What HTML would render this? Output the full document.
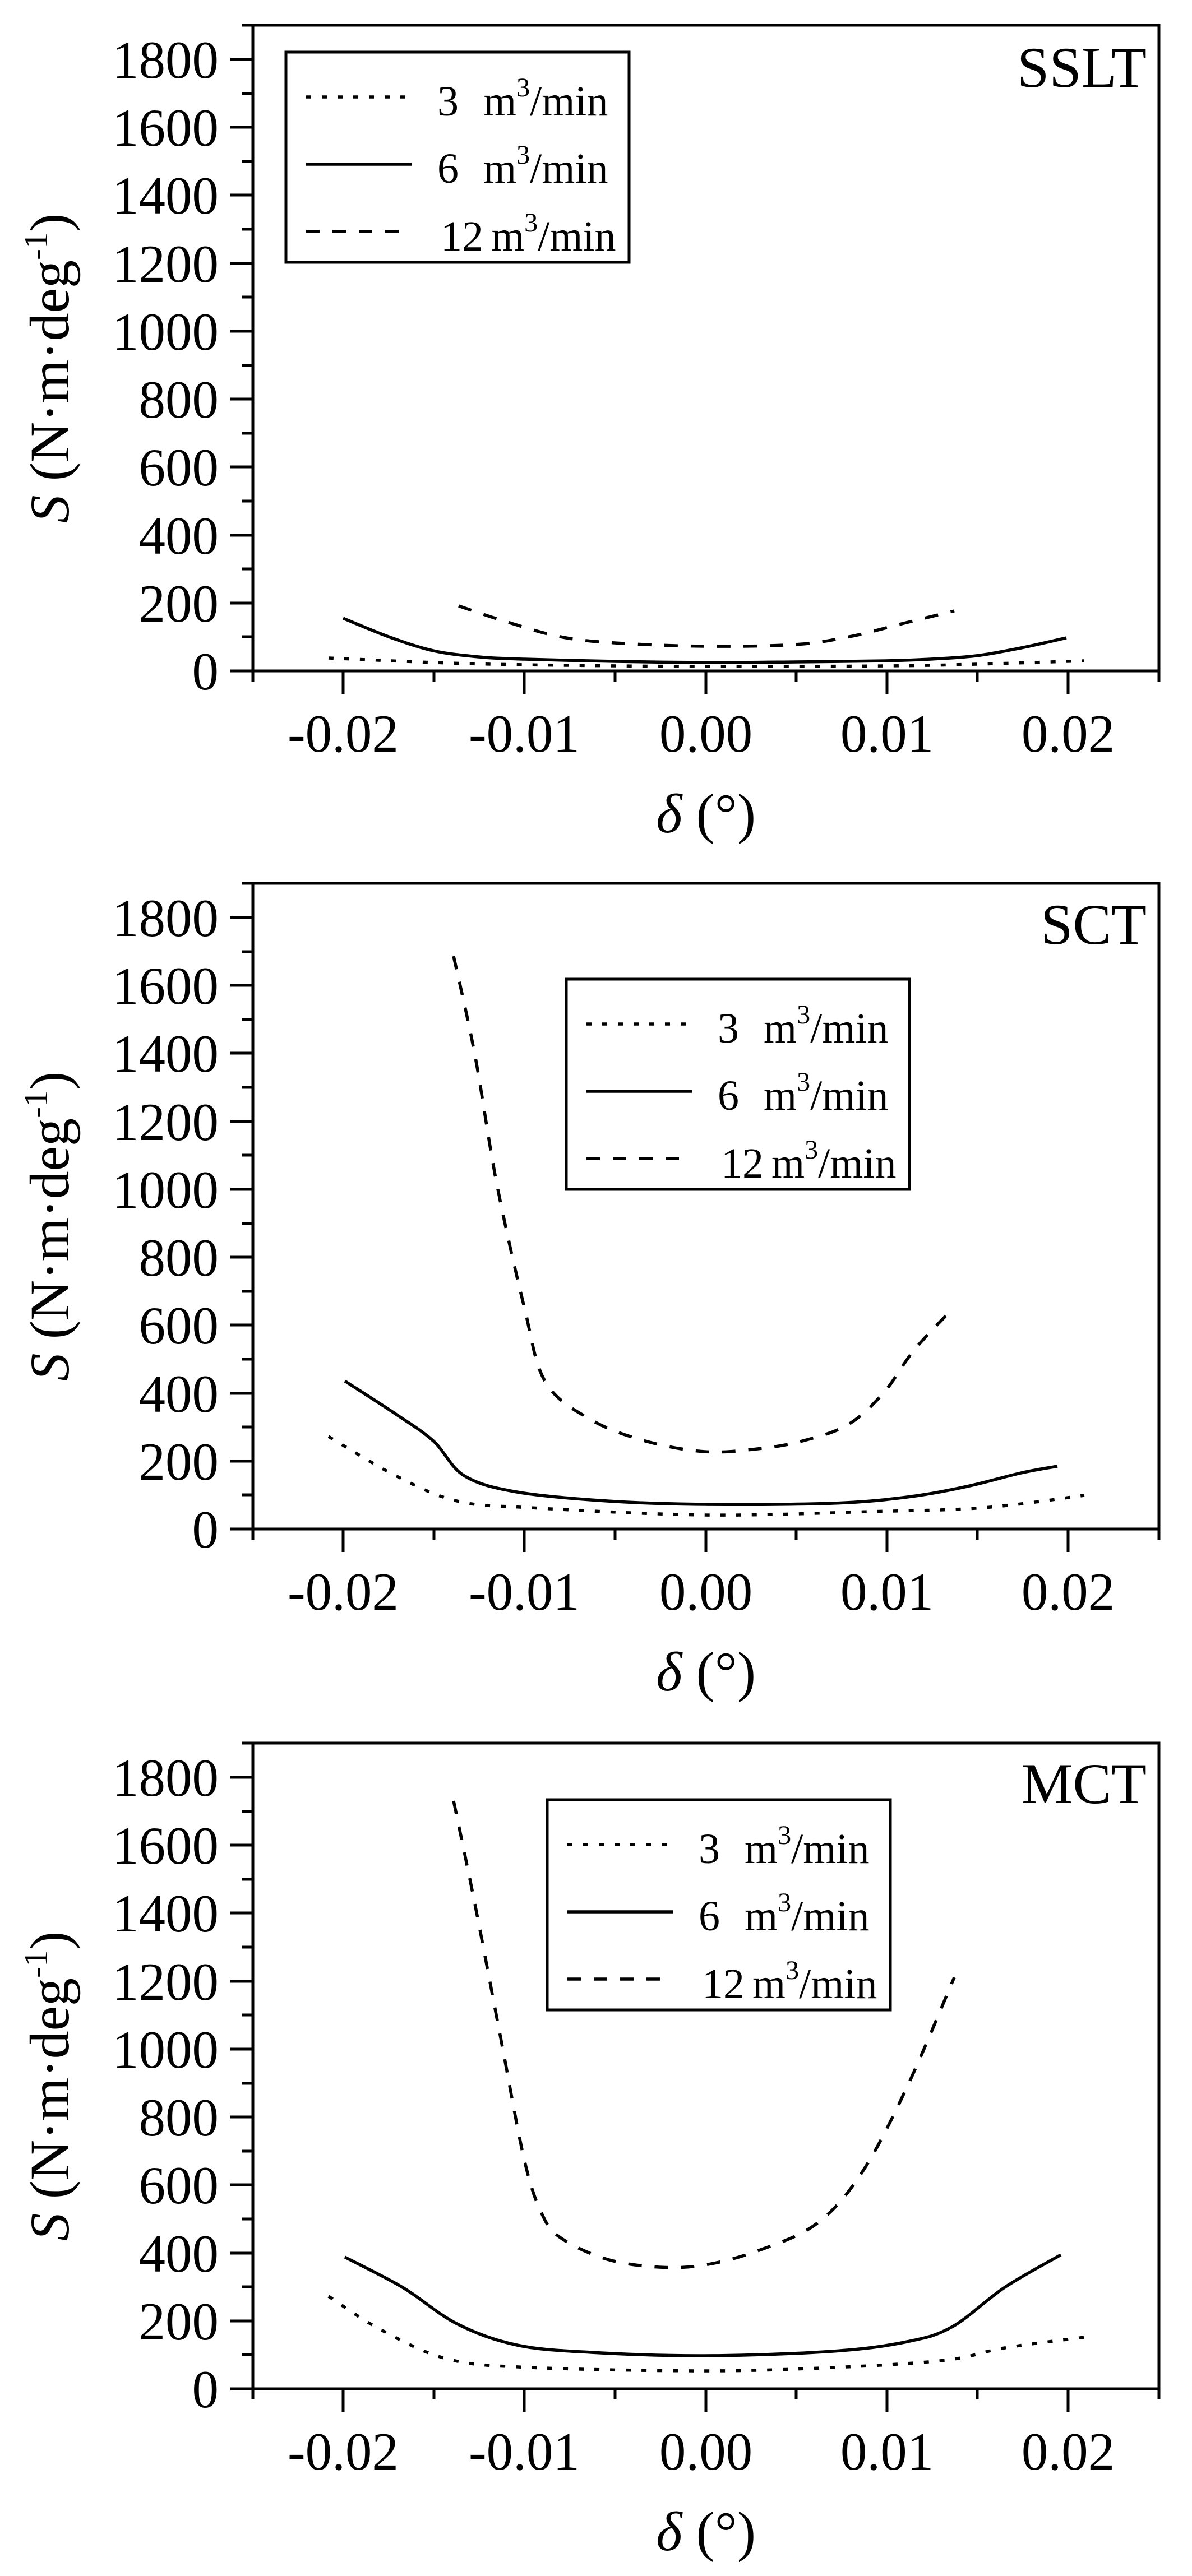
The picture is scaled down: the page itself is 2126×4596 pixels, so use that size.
<!DOCTYPE html>
<html><head><meta charset="utf-8"><style>
html,body{margin:0;padding:0;background:#fff;}
svg{display:block;}
text{font-family:"Liberation Serif","Times New Roman",serif;fill:#000;}
.ax{fill:none;stroke:#000;stroke-width:5;}
.tk{stroke:#000;stroke-width:5;}
.c{fill:none;stroke:#000;stroke-width:5.5;stroke-linejoin:round;}
.dot{stroke-dasharray:9 19;}
.dsh{stroke-dasharray:24 23;}
.yl{font-size:95px;text-anchor:end;}
.xl{font-size:95px;text-anchor:middle;}
.lg{font-size:76px;}
.tt{font-size:103px;text-anchor:end;}
</style></head><body>
<svg id="s" width="2126" height="4596" viewBox="0 0 2126 4596" xmlns="http://www.w3.org/2000/svg">
<defs>
<g id="frame">
<rect class="ax" x="451" y="0" width="1616" height="1152"/>
<g class="tk">
<line x1="411" y1="1152" x2="451" y2="1152"/><line x1="432" y1="1091" x2="451" y2="1091"/>
<line x1="411" y1="1031" x2="451" y2="1031"/><line x1="432" y1="970" x2="451" y2="970"/>
<line x1="411" y1="910" x2="451" y2="910"/><line x1="432" y1="849" x2="451" y2="849"/>
<line x1="411" y1="788" x2="451" y2="788"/><line x1="432" y1="728" x2="451" y2="728"/>
<line x1="411" y1="667" x2="451" y2="667"/><line x1="432" y1="607" x2="451" y2="607"/>
<line x1="411" y1="546" x2="451" y2="546"/><line x1="432" y1="485" x2="451" y2="485"/>
<line x1="411" y1="425" x2="451" y2="425"/><line x1="432" y1="364" x2="451" y2="364"/>
<line x1="411" y1="303" x2="451" y2="303"/><line x1="432" y1="243" x2="451" y2="243"/>
<line x1="411" y1="182" x2="451" y2="182"/><line x1="432" y1="122" x2="451" y2="122"/>
<line x1="411" y1="61" x2="451" y2="61"/><line x1="432" y1="0" x2="451" y2="0"/>
<line x1="451" y1="1152" x2="451" y2="1171"/><line x1="612" y1="1152" x2="612" y2="1193"/>
<line x1="774" y1="1152" x2="774" y2="1171"/><line x1="935" y1="1152" x2="935" y2="1193"/>
<line x1="1097" y1="1152" x2="1097" y2="1171"/><line x1="1259" y1="1152" x2="1259" y2="1193"/>
<line x1="1420" y1="1152" x2="1420" y2="1171"/><line x1="1582" y1="1152" x2="1582" y2="1193"/>
<line x1="1743" y1="1152" x2="1743" y2="1171"/><line x1="1905" y1="1152" x2="1905" y2="1193"/>
<line x1="2067" y1="1152" x2="2067" y2="1171"/>
</g>
<text class="yl" x="390" y="1185">0</text>
<text class="yl" x="390" y="1064">200</text>
<text class="yl" x="390" y="943">400</text>
<text class="yl" x="390" y="821">600</text>
<text class="yl" x="390" y="700">800</text>
<text class="yl" x="390" y="579">1000</text>
<text class="yl" x="390" y="458">1200</text>
<text class="yl" x="390" y="336">1400</text>
<text class="yl" x="390" y="215">1600</text>
<text class="yl" x="390" y="94">1800</text>
<text class="xl" x="612" y="1296">-0.02</text>
<text class="xl" x="935" y="1296">-0.01</text>
<text class="xl" x="1259" y="1296">0.00</text>
<text class="xl" x="1582" y="1296">0.01</text>
<text class="xl" x="1905" y="1296">0.02</text>
<text x="1259" y="1440" style="font-size:100px;text-anchor:middle"><tspan font-style="italic">δ</tspan> (°)</text>
<text transform="translate(122,612) rotate(-90)" style="font-size:100px;text-anchor:middle"><tspan font-style="italic">S</tspan> (N·m·deg<tspan font-size="60" dy="-38">-1</tspan><tspan dy="38">)</tspan></text>
</g>
<g id="legend">
<rect class="ax" x="0" y="0" width="612" height="375"/>
<line class="c dot" x1="36" y1="80" x2="224" y2="80"/>
<line class="c" x1="36" y1="200" x2="224" y2="200"/>
<line class="c dsh" x1="36" y1="320" x2="224" y2="320"/>
<text class="lg" x="270" y="113">3</text><text class="lg" x="352" y="113">m<tspan font-size="48" dy="-34">3</tspan><tspan dy="34">/min</tspan></text>
<text class="lg" x="270" y="233">6</text><text class="lg" x="352" y="233">m<tspan font-size="48" dy="-34">3</tspan><tspan dy="34">/min</tspan></text>
<text class="lg" x="276" y="354">12</text><text class="lg" x="366" y="354">m<tspan font-size="48" dy="-34">3</tspan><tspan dy="34">/min</tspan></text>
</g>
</defs>

<!-- Panel 1 -->
<use href="#frame" x="0" y="45"/>
<use href="#legend" x="510" y="93"/>
<text class="tt" x="2045" y="155">SSLT</text>
<polyline class="c dot" points="586,1174 773,1182 935,1186 1257,1189 1580,1188 1741,1185 1934,1179"/>
<polyline class="c" points="612,1103 693,1136 773,1161 854,1172 935,1176 1096,1180 1257,1182 1418,1181 1580,1179 1660,1176 1741,1170 1821,1156 1902,1138"/>
<polyline class="c dsh" points="818,1081 902,1109 999,1136 1096,1147 1257,1153 1418,1150 1515,1136 1612,1112 1702,1090"/>

<!-- Panel 2 -->
<use href="#frame" x="0" y="1576"/>
<use href="#legend" x="1010" y="1747"/>
<text class="tt" x="2045" y="1684">SCT</text>
<polyline class="c dot" points="586,2563 706,2633 815,2678 947,2690 1257,2703 1550,2697 1754,2690 1934,2668"/>
<polyline class="c" points="615,2464 706,2523 773,2571 828,2633 922,2662 1083,2678 1257,2684 1486,2682 1618,2671 1725,2652 1821,2628 1886,2616"/>
<polyline class="c dsh" points="809,1706 847,1882 886,2112 935,2332 973,2466 1054,2533 1151,2571 1257,2590 1351,2585 1431,2571 1512,2542 1576,2485 1631,2408 1702,2332"/>

<!-- Panel 3 -->
<use href="#frame" x="0" y="3110"/>
<use href="#legend" x="976" y="3211"/>
<text class="tt" x="2045" y="3217">MCT</text>
<polyline class="c dot" points="586,4097 680,4157 799,4209 947,4224 1257,4230 1486,4224 1686,4211 1792,4189 1934,4170"/>
<polyline class="c" points="615,4027 718,4081 815,4146 922,4184 1054,4197 1257,4203 1486,4195 1618,4178 1699,4151 1792,4081 1892,4023"/>
<polyline class="c dsh" points="809,3213 847,3397 893,3636 935,3853 967,3951 1002,3994 1083,4031 1176,4045 1257,4041 1351,4016 1457,3967 1538,3875 1618,3723 1702,3528"/>
</svg>
<script>
(function(){
var ns="http://www.w3.org/2000/svg";
var pls=document.querySelectorAll("#s > polyline");
for(var i=0;i<pls.length;i++){
 var pl=pls[i];
 var p=pl.getAttribute("points").trim().split(/\s+/).map(function(s){var a=s.split(",");return [+a[0],+a[1]];});
 var d="M"+p[0][0]+","+p[0][1];
 for(var k=0;k<p.length-1;k++){
  var p0=p[k-1]||p[k],p1=p[k],p2=p[k+1],p3=p[k+2]||p2;
  var c1x=p1[0]+(p2[0]-p0[0])/6,c1y=p1[1]+(p2[1]-p0[1])/6;
  var c2x=p2[0]-(p3[0]-p1[0])/6,c2y=p2[1]-(p3[1]-p1[1])/6;
  d+=" C"+c1x.toFixed(1)+","+c1y.toFixed(1)+" "+c2x.toFixed(1)+","+c2y.toFixed(1)+" "+p2[0]+","+p2[1];
 }
 var path=document.createElementNS(ns,"path");
 path.setAttribute("d",d);
 path.setAttribute("class",pl.getAttribute("class"));
 pl.parentNode.replaceChild(path,pl);
}
})();
</script>
</body></html>
